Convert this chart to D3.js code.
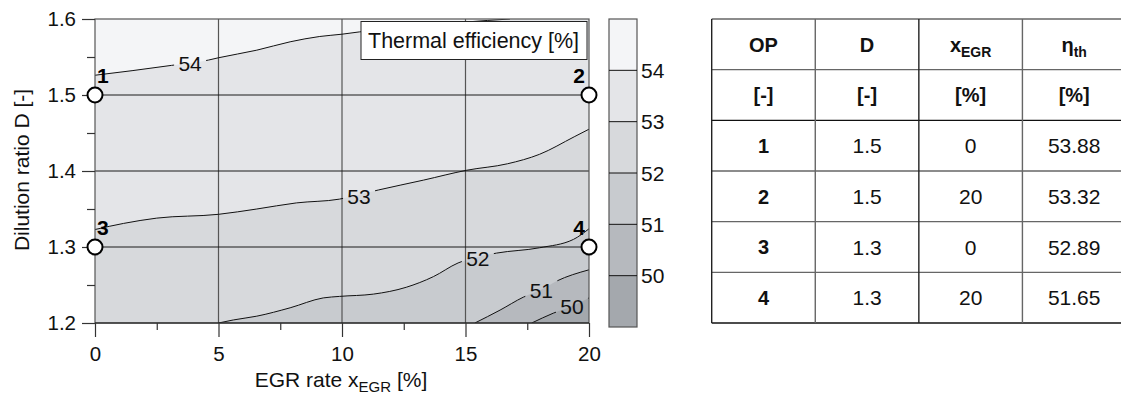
<!DOCTYPE html>
<html>
<head>
<meta charset="utf-8">
<script src="https://cdn.jsdelivr.net/npm/d3@7"></script>
<style>
  body { margin: 0; background: #fff; }
  svg { display: block; font-family: "Liberation Sans", Arial, sans-serif; }
</style>
</head>
<body>
<script>
// axis ticks
var xTicks = [0, 5, 10, 15, 20],
    xMinor = [2.5, 7.5, 12.5, 17.5],
    yTicks = [1.2, 1.3, 1.4, 1.5, 1.6],
    yMinor = [1.25, 1.35, 1.45, 1.55];

// contour lines: [EGR rate %, dilution ratio D]
var contour50 = [[17.68, 1.2], [18.56, 1.213], [19.3, 1.222], [20, 1.233]];
var contour51 = [[15.38, 1.2], [16.4, 1.217], [17.34, 1.234], [18.07, 1.244], [18.68, 1.255], [20, 1.27]];
var contour52 = [[5, 1.2], [5.6, 1.204], [6.55, 1.209], [7.9, 1.22], [9.24, 1.233], [9.9, 1.235],
                 [11.27, 1.238], [12.6, 1.247], [13.7, 1.261], [14.7, 1.279], [15.5, 1.287],
                 [16.26, 1.292], [18, 1.299], [19.37, 1.31], [20, 1.324]];
var contour53 = [[0, 1.323], [1.15, 1.331], [2.5, 1.338], [5, 1.343], [6.55, 1.35], [8.15, 1.358],
                 [9.9, 1.363], [10.7, 1.369], [11.47, 1.375], [13.3, 1.388], [15.05, 1.401],
                 [16.7, 1.4095], [18, 1.422], [19.4, 1.445], [20, 1.455]];
var contour54 = [[0, 1.526], [1.5, 1.532], [3.1, 1.539], [4.6, 1.546], [5, 1.549], [6.55, 1.559],
                 [7.9, 1.57], [9.1, 1.577], [10, 1.58], [10.7, 1.583], [13, 1.59], [15, 1.596], [16.8, 1.6]];
var levels = [50, 51, 52, 53, 54];
var contourLines = [contour50, contour51, contour52, contour53, contour54];

// contour label positions [level, EGR, D]
var contourLabels = [[54, 3.85, 1.541], [53, 10.69, 1.367], [52, 15.5, 1.285], [51, 18.07, 1.243], [50, 19.31, 1.222]];

// colour bar
var barLevels = [49, 50, 51, 52, 53, 54, 55];
var bandColors = ["#a4a8ad", "#b6b9be", "#c8cbcf", "#d7d9dc", "#e4e5e8", "#f4f5f7"];

// operating points
var opIds = ["1", "2", "3", "4"],
    opD = [1.5, 1.5, 1.3, 1.3],
    opEgr = [0, 20, 0, 20],
    opEta = ["53.88", "53.32", "52.89", "51.65"];

var headMain = ["OP", "D", "x", "\u03b7"],
    headSub = ["", "", "EGR", "th"],
    headUnit = ["[-]", "[-]", "[%]", "[%]"];

var width = 1121,
    height = 394;

var svg = d3.select("body")
    .append("svg")
    .attr("width", width)
    .attr("height", height);

var x = d3.scaleLinear().domain([0, 20]).range([95, 589]);
var y = d3.scaleLinear().domain([1.2, 1.6]).range([323, 19]);

var defs = svg.append("defs");
defs.append("clipPath").attr("id", "clip")
  .append("rect")
    .attr("x", x(0)).attr("y", y(1.6))
    .attr("width", x(20) - x(0)).attr("height", y(1.2) - y(1.6));

var line = d3.line()
    .x(function(d) { return x(d[0]); })
    .y(function(d) { return y(d[1]); })
    .curve(d3.curveMonotoneX);

var plot = svg.append("g").attr("clip-path", "url(#clip)");

// lowest band as background
plot.append("rect")
    .attr("x", x(0)).attr("y", y(1.6))
    .attr("width", x(20) - x(0)).attr("height", y(1.2) - y(1.6))
    .attr("fill", bandColors[0]);

// each level fills everything above/left of its line
contourLines.forEach(function(pts, i) {
    var first = pts[0], last = pts[pts.length - 1];
    var extra = [];
    if (last[0] >= 20) extra.push([20, 1.6]);
    extra.push([0, 1.6]);
    if (first[0] > 0) extra.push([0, 1.2]);
    var d = line(pts) + extra.map(function(p) { return "L" + x(p[0]) + "," + y(p[1]); }).join("") + "Z";
    plot.append("path")
        .attr("d", d)
        .attr("fill", bandColors[i + 1]);
});

// grid
plot.selectAll(".vgrid")
  .data([5, 10, 15])
  .enter().append("line")
    .attr("x1", function(d) { return x(d); }).attr("x2", function(d) { return x(d); })
    .attr("y1", y(1.6)).attr("y2", y(1.2))
    .attr("stroke", "#555").attr("stroke-width", 1.2);

plot.selectAll(".hgrid")
  .data([1.3, 1.4, 1.5])
  .enter().append("line")
    .attr("x1", x(0)).attr("x2", x(20))
    .attr("y1", function(d) { return y(d); }).attr("y2", function(d) { return y(d); })
    .attr("stroke", "#1a1a1a").attr("stroke-width", 1);

// mask so the lines break under their labels
var mask = defs.append("mask").attr("id", "lblmask");
mask.append("rect").attr("x", 0).attr("y", 0).attr("width", width).attr("height", height).attr("fill", "#fff");
mask.selectAll("rect.hole")
  .data(contourLabels)
  .enter().append("rect")
    .attr("class", "hole")
    .attr("x", function(d) { return x(d[1]) - 16; })
    .attr("y", function(d) { return y(d[2]) - 11; })
    .attr("width", 32).attr("height", 22)
    .attr("fill", "#000");

plot.append("g")
    .attr("mask", "url(#lblmask)")
  .selectAll("path")
  .data(contourLines)
  .enter().append("path")
    .attr("d", line)
    .attr("fill", "none")
    .attr("stroke", "#111")
    .attr("stroke-width", 1);

svg.selectAll(".clabel")
  .data(contourLabels)
  .enter().append("text")
    .attr("x", function(d) { return x(d[1]); })
    .attr("y", function(d) { return y(d[2]); })
    .attr("dy", "0.36em")
    .attr("text-anchor", "middle")
    .attr("font-size", 21)
    .attr("fill", "#111")
    .text(function(d) { return d[0]; });

// frame
svg.append("rect")
    .attr("x", x(0)).attr("y", y(1.6))
    .attr("width", x(20) - x(0)).attr("height", y(1.2) - y(1.6))
    .attr("fill", "none").attr("stroke", "#555").attr("stroke-width", 1.2);
svg.append("line")
    .attr("x1", x(0)).attr("x2", x(20)).attr("y1", y(1.2)).attr("y2", y(1.2))
    .attr("stroke", "#111").attr("stroke-width", 1.2);

// axes
function styleAxis(g) {
    g.select(".domain").remove();
    g.selectAll("line").attr("stroke", "#333").attr("stroke-width", 1.2);
    g.selectAll("text").attr("font-size", 20.5).attr("fill", "#111").attr("font-family", null);
}

svg.append("g")
    .attr("transform", "translate(" + x(0) + ",0)")
    .call(d3.axisLeft(y).tickValues(yTicks).tickSize(13).tickPadding(6).tickFormat(d3.format(".1f")))
    .call(styleAxis);
svg.append("g")
    .attr("transform", "translate(" + x(0) + ",0)")
    .call(d3.axisLeft(y).tickValues(yMinor).tickSize(8).tickFormat(""))
    .call(styleAxis);
svg.append("g")
    .attr("transform", "translate(0," + y(1.2) + ")")
    .call(d3.axisBottom(x).tickValues(xTicks).tickSize(14).tickPadding(9).tickFormat(d3.format("d")))
    .call(styleAxis);
svg.append("g")
    .attr("transform", "translate(0," + y(1.2) + ")")
    .call(d3.axisBottom(x).tickValues(xMinor).tickSize(7).tickFormat(""))
    .call(styleAxis);

// axis titles
svg.append("text")
    .attr("transform", "translate(29,170) rotate(-90)")
    .attr("text-anchor", "middle")
    .attr("font-size", 21)
    .attr("fill", "#111")
    .text("Dilution ratio D [-]");

var xt = svg.append("text")
    .attr("x", 341).attr("y", 387)
    .attr("text-anchor", "middle")
    .attr("font-size", 21)
    .attr("fill", "#111");
xt.append("tspan").text("EGR rate x");
xt.append("tspan").attr("font-size", 15).attr("dy", 5).text("EGR");
xt.append("tspan").attr("dy", -5).text(" [%]");

// legend box
svg.append("rect")
    .attr("x", 361).attr("y", 21.5).attr("width", 226).attr("height", 38)
    .attr("fill", "#fff").attr("stroke", "#222").attr("stroke-width", 1);
svg.append("text")
    .attr("x", 368).attr("y", 47.5)
    .attr("font-size", 21.5).attr("fill", "#111")
    .text("Thermal efficiency [%]");

// operating points
svg.selectAll(".op")
  .data(opIds)
  .enter().append("circle")
    .attr("cx", function(d, i) { return x(opEgr[i]); })
    .attr("cy", function(d, i) { return y(opD[i]); })
    .attr("r", 7.5)
    .attr("fill", "#fff").attr("stroke", "#000").attr("stroke-width", 2);

svg.selectAll(".oplabel")
  .data(opIds)
  .enter().append("text")
    .attr("x", function(d, i) { return opEgr[i] === 0 ? x(opEgr[i]) + 2 : x(opEgr[i]) - 4; })
    .attr("y", function(d, i) { return y(opD[i]) - 12.5; })
    .attr("text-anchor", function(d, i) { return opEgr[i] === 0 ? "start" : "end"; })
    .attr("font-size", 21).attr("font-weight", "bold").attr("fill", "#000")
    .text(function(d) { return d; });

// colour bar
var cb = d3.scaleLinear().domain([49, 55]).range([327, 19]);
var bar = svg.append("g");
bar.selectAll("rect")
  .data(bandColors)
  .enter().append("rect")
    .attr("x", 609).attr("width", 28)
    .attr("y", function(d, i) { return cb(barLevels[i + 1]); })
    .attr("height", function(d, i) { return cb(barLevels[i]) - cb(barLevels[i + 1]); })
    .attr("fill", function(d) { return d; });
bar.append("rect")
    .attr("x", 609).attr("width", 28).attr("y", cb(55)).attr("height", cb(49) - cb(55))
    .attr("fill", "none").attr("stroke", "#555").attr("stroke-width", 1.2);
bar.selectAll("line")
  .data(levels)
  .enter().append("line")
    .attr("x1", 609).attr("x2", 637)
    .attr("y1", function(d) { return cb(d); }).attr("y2", function(d) { return cb(d); })
    .attr("stroke", "#111").attr("stroke-width", 1);
bar.selectAll("text")
  .data(levels)
  .enter().append("text")
    .attr("x", 641)
    .attr("y", function(d) { return cb(d); })
    .attr("dy", "0.36em")
    .attr("font-size", 21).attr("fill", "#111")
    .text(function(d) { return d; });

// table
var col = d3.scaleBand().domain(d3.range(4)).range([711.7, 1126]);
var row = d3.scaleBand().domain(d3.range(6)).range([19, 323]);
var tab = svg.append("g");

tab.selectAll(".hl")
  .data(d3.range(7))
  .enter().append("line")
    .attr("x1", 711.7).attr("x2", 1126)
    .attr("y1", function(d) { return 19 + d * row.bandwidth(); })
    .attr("y2", function(d) { return 19 + d * row.bandwidth(); })
    .attr("stroke", function(d) { return d === 2 || d === 6 ? "#111" : "#666"; })
    .attr("stroke-width", 1.4);
tab.selectAll(".vl")
  .data(d3.range(5))
  .enter().append("line")
    .attr("x1", function(d) { return 711.7 + d * col.bandwidth(); })
    .attr("x2", function(d) { return 711.7 + d * col.bandwidth(); })
    .attr("y1", 19).attr("y2", 323)
    .attr("stroke", function(d) { return d === 0 || d === 2 ? "#222" : "#666"; })
    .attr("stroke-width", 1.4);

function cx(i) { return col(i) + col.bandwidth() / 2; }
function cy(j) { return row(j) + row.bandwidth() / 2; }

headMain.forEach(function(h, i) {
    var t = tab.append("text")
        .attr("x", cx(i)).attr("y", cy(0)).attr("dy", "0.36em")
        .attr("text-anchor", "middle")
        .attr("font-size", 20).attr("font-weight", "bold").attr("fill", "#111");
    t.append("tspan").text(h);
    if (headSub[i]) t.append("tspan").attr("font-size", 14).attr("dy", 5).text(headSub[i]);
});
headUnit.forEach(function(h, i) {
    tab.append("text")
        .attr("x", cx(i)).attr("y", cy(1)).attr("dy", "0.36em")
        .attr("text-anchor", "middle")
        .attr("font-size", 20).attr("font-weight", "bold").attr("fill", "#111")
        .text(h);
});
opIds.forEach(function(id, j) {
    var cells = [id, d3.format(".1f")(opD[j]), String(opEgr[j]), opEta[j]];
    cells.forEach(function(c, i) {
        tab.append("text")
            .attr("x", cx(i)).attr("y", cy(j + 2)).attr("dy", "0.36em")
            .attr("text-anchor", "middle")
            .attr("font-size", i === 0 ? 20 : 21)
            .attr("font-weight", i === 0 ? "bold" : "normal")
            .attr("fill", "#111")
            .text(c);
    });
});
</script>
</body>
</html>
